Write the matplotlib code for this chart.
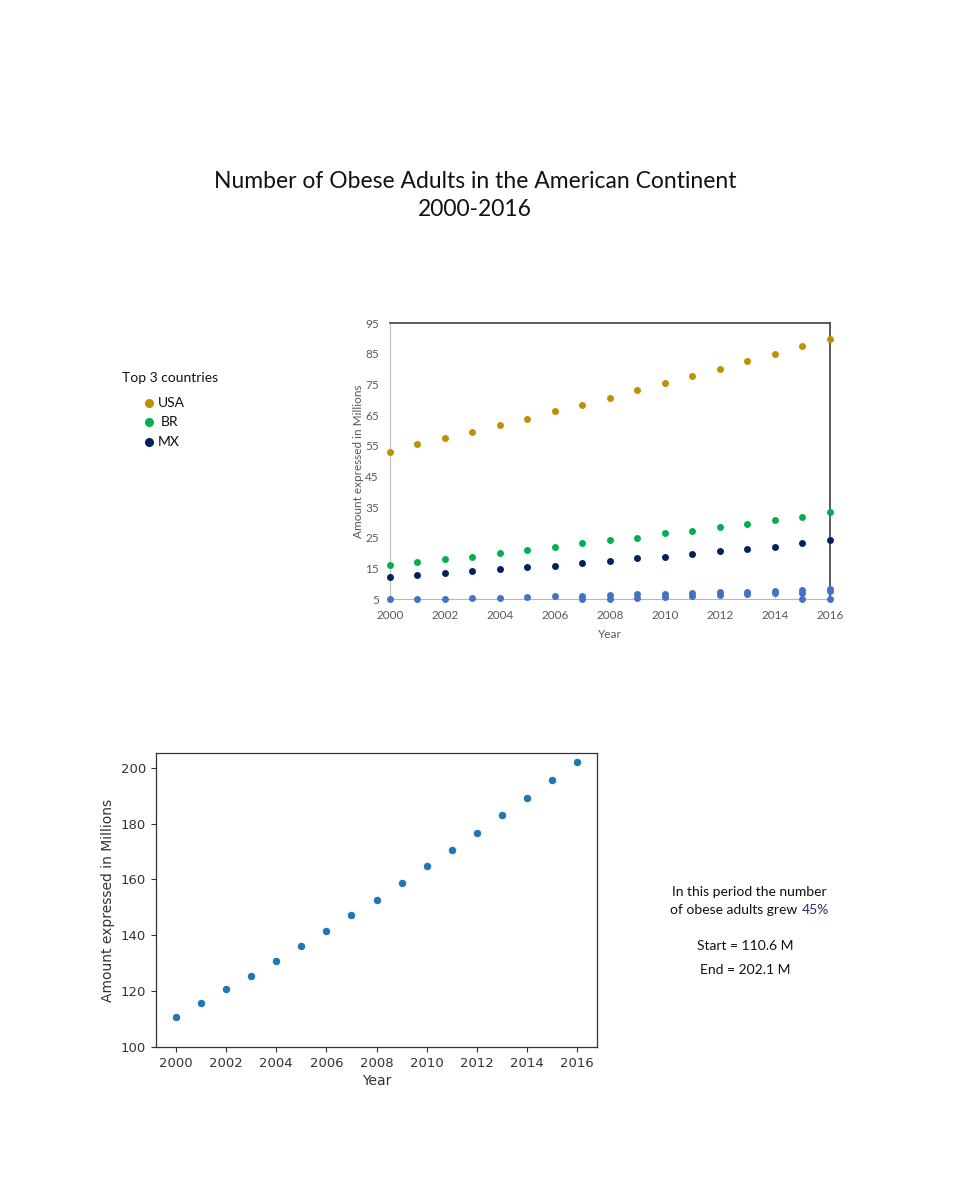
import matplotlib
matplotlib.use('Agg')
import matplotlib.pyplot as plt

years = list(range(2000, 2017))

# top chart: top 3 countries (millions)
usa = [53.1, 55.4, 57.5, 59.4, 61.8, 63.8, 66.2, 68.4, 70.7, 73.1, 75.4, 77.7, 80.1, 82.7, 85.0, 87.6, 89.9]
br = [16.2, 17.1, 18.0, 18.8, 20.0, 20.9, 22.1, 23.2, 24.2, 24.9, 26.4, 27.3, 28.4, 29.6, 30.7, 31.9, 33.4]
mx = [12.2, 12.7, 13.6, 14.3, 14.8, 15.5, 15.9, 16.8, 17.4, 18.3, 18.8, 19.7, 20.6, 21.4, 22.1, 23.2, 24.1]
# the smaller countries near the bottom
other_a = [5.0, 5.0, 5.0, 5.3, 5.3, 5.6, 5.9, 6.1, 6.3, 6.5, 6.7, 7.0, 7.2, 7.4, 7.6, 7.9, 8.2]
other_b = [None] * 7 + [5.0, 5.0, 5.5, 5.8, 6.1, 6.4, 6.7, 7.0, 7.1, 7.5]
other_c = [None] * 15 + [5.0, 5.0]

# bottom chart: whole continent (millions)
total = [110.6, 115.8, 120.7, 125.5, 130.8, 136.2, 141.4, 147.3, 152.6, 158.9,
         164.8, 170.5, 176.8, 183.1, 189.3, 195.6, 202.1]

legend_names = ['USA', 'BR', 'MX']
colors = ['#BF9000', '#00B050', '#002060']
other_color = '#4472C4'

fig = plt.figure(figsize=(9.6, 12), dpi=100)

fig.text(0.495, 0.849, 'Number of Obese Adults in the American Continent',
         ha='center', va='center', fontsize=16.5, family='Lato', color='#111111')
fig.text(0.495, 0.825, '2000-2016', ha='center', va='center', fontsize=16.5,
         family='Lato', color='#111111')

# ---- top chart ----
ax1 = fig.add_axes([0.4062, 0.5008, 0.4583, 0.23])
for vals, c in zip([usa, br, mx], colors):
    ax1.scatter(years, vals, s=25, color=c, zorder=3, linewidths=0, clip_on=False)
for vals in [other_a, other_b, other_c]:
    xs = [y for y, v in zip(years, vals) if v is not None]
    vs = [v for v in vals if v is not None]
    ax1.scatter(xs, vs, s=25, color=other_color, zorder=3, linewidths=0, clip_on=False)

ax1.set_xlim(2000, 2016)
ax1.set_ylim(5, 95)
ax1.set_xticks(range(2000, 2017, 2))
ax1.set_yticks(range(5, 96, 10))
ax1.tick_params(axis='y', length=0, labelsize=8.5, labelcolor='#595959', pad=8)
ax1.tick_params(axis='x', length=3, direction='in', color='#c8d0e0', labelsize=8.5,
                labelcolor='#595959', pad=8)
for lab in ax1.get_xticklabels() + ax1.get_yticklabels():
    lab.set_family('Lato')
ax1.spines['top'].set_color('#404040')
ax1.spines['right'].set_color('#404040')
ax1.spines['top'].set_linewidth(1.2)
ax1.spines['right'].set_linewidth(1.2)
ax1.spines['left'].set_color('#c0c0c0')
ax1.spines['bottom'].set_color('#a9b8d8')
ax1.set_xlabel('Year', fontsize=8.5, color='#595959', family='Lato', labelpad=6)
ax1.set_ylabel('Amount expressed in Millions', fontsize=8.5, color='#595959',
               family='Lato', labelpad=1)

# legend drawn by hand on the figure
fig.text(0.127, 0.685, 'Top 3 countries', fontsize=10, family='Lato',
         va='center', color='#111111')
leg_y = [0.664, 0.648, 0.632]
text_x = [0.164, 0.167, 0.164]
for name, c, y, tx in zip(legend_names, colors, leg_y, text_x):
    fig.lines.append(plt.Line2D([0.155], [y], marker='o', markersize=5.5, color=c,
                                transform=fig.transFigure, linestyle='none'))
    fig.text(tx, y, name, fontsize=10, family='Lato', va='center', color='#111111')

# ---- bottom chart ----
ax2 = fig.add_axes([0.1625, 0.1275, 0.4594, 0.245])
ax2.scatter(years, total, s=36, color='#1f77b4', edgecolors='white', linewidths=0.6, zorder=3)
ax2.set_xlim(1999.2, 2016.8)
ax2.set_ylim(100, 205.3)
ax2.set_xticks(range(2000, 2017, 2))
ax2.set_yticks(range(100, 201, 20))
ax2.tick_params(labelsize=9.5, labelcolor='#333333', color='#333333', length=3.5)
for s in ax2.spines.values():
    s.set_color('#333333')
    s.set_linewidth(0.9)
ax2.set_xlabel('Year', fontsize=10, color='#333333', labelpad=3)
ax2.set_ylabel('Amount expressed in Millions', fontsize=10, color='#333333', labelpad=4)

# ---- annotation on the right ----
fig.text(0.781, 0.2565, 'In this period the number', ha='center', va='center',
         fontsize=10, family='Lato', color='#111111')
t = fig.text(0.698, 0.2415, 'of obese adults grew', ha='left', va='center',
             fontsize=10, family='Lato', color='#111111')
ax2.annotate('45%', xy=(1, 0.5), xycoords=t, xytext=(3.5, 0), textcoords='offset points',
             va='center', ha='left', fontsize=10, family='Lato', color='#2e2a78',
             annotation_clip=False)
fig.text(0.776, 0.2115, 'Start = 110.6 M', ha='center', va='center',
         fontsize=10, family='Lato', color='#111111')
fig.text(0.776, 0.1915, 'End = 202.1 M', ha='center', va='center',
         fontsize=10, family='Lato', color='#111111')

plt.savefig('out.png', dpi=100)
